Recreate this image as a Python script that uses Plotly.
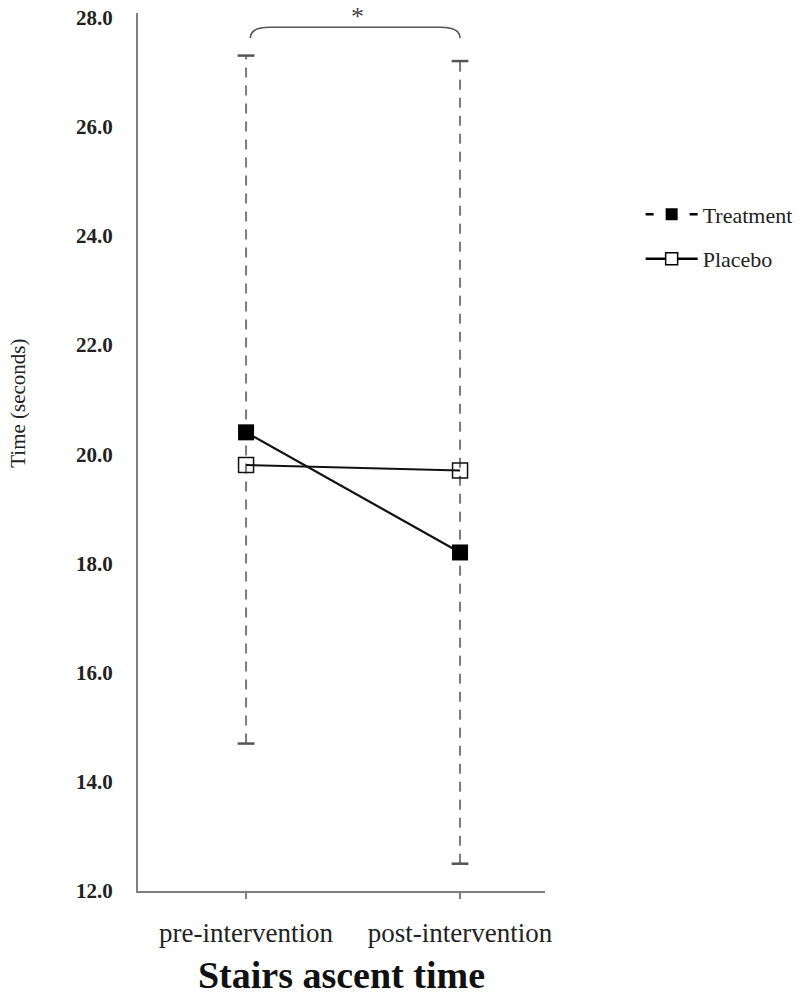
import plotly.graph_objects as go

# ---- data ----
categories = ["pre-intervention", "post-intervention"]
treatment = [20.4, 18.2]
placebo = [19.8, 19.7]
err_upper = [27.3, 27.2]
err_lower = [14.7, 12.5]
y_ticks = [12, 14, 16, 18, 20, 22, 24, 26, 28]
bracket_top = 27.82
bracket_end = 27.62

xpos = list(range(len(categories)))
SERIF = "Liberation Serif, Times New Roman, serif"

fig = go.Figure()

# dashed error bars
ex, ey = [], []
for i, lo, hi in zip(xpos, err_lower, err_upper):
    ex += [i, i, None]
    ey += [lo, hi, None]
fig.add_trace(go.Scatter(x=ex, y=ey, mode="lines", showlegend=False, hoverinfo="skip",
                         line=dict(color="#7a7a7a", width=2, dash="10px,8px")))
# caps
fig.add_trace(go.Scatter(x=xpos + xpos, y=err_lower + err_upper, mode="markers",
                         showlegend=False, hoverinfo="skip",
                         marker=dict(symbol="line-ew", size=12,
                                     line=dict(color="#555555", width=2.5))))

# placebo (solid, open square)
fig.add_trace(go.Scatter(x=xpos, y=placebo, mode="lines+markers", showlegend=False,
                         line=dict(color="#111111", width=2),
                         marker=dict(symbol="square-open", size=15, color="#111111",
                                     line=dict(width=1.5))))
# treatment (filled square)
fig.add_trace(go.Scatter(x=xpos, y=treatment, mode="lines+markers", showlegend=False,
                         line=dict(color="#111111", width=2.2),
                         marker=dict(symbol="square", size=16, color="#000000")))

# legend entries
fig.add_trace(go.Scatter(x=[None], y=[None], mode="lines+markers", name="Treatment",
                         legendgroup="t",
                         line=dict(color="#000000", width=2.5, dash="8px,36px"),
                         marker=dict(symbol="square", size=12, color="#000000")))
fig.add_trace(go.Scatter(x=[None], y=[None], mode="lines+markers", name="Placebo",
                         legendgroup="p",
                         line=dict(color="#000000", width=2.5),
                         marker=dict(symbol="square", size=12, color="white",
                                     line=dict(color="#000000", width=1.5))))

# significance bracket
x0, x1 = xpos[0] + 0.02, xpos[1]
r = 0.09
path = (f"M {x0},{bracket_end} Q {x0},{bracket_top} {x0 + r},{bracket_top} "
        f"L {x1 - r},{bracket_top} Q {x1},{bracket_top} {x1},{bracket_end}")
fig.add_shape(type="path", path=path, xref="x", yref="y",
              line=dict(color="#555555", width=1.6))
fig.add_annotation(x=(xpos[0] + xpos[1]) / 2 + 0.02, y=1.0, xref="x", yref="paper",
                   yanchor="top", yshift=13, text="*", showarrow=False,
                   font=dict(family=SERIF, size=26, color="#444444"))

# y axis title
fig.add_annotation(x=-0.295, y=0.556, xref="paper", yref="paper", text="Time (seconds)",
                   textangle=-90, showarrow=False, xanchor="center", yanchor="middle",
                   font=dict(family=SERIF, size=21, color="#222222"))

fig.update_layout(
    width=800, height=996,
    margin=dict(l=138, r=255, t=13, b=105, autoexpand=False),
    plot_bgcolor="white", paper_bgcolor="white",
    font=dict(family=SERIF, color="#222222"),
    legend=dict(x=1.235, y=0.745, xanchor="left", yanchor="middle", itemwidth=52,
                font=dict(family=SERIF, size=22, color="#222222"),
                tracegroupgap=13, bgcolor="rgba(0,0,0,0)"),
    xaxis=dict(range=[-0.505, 1.397], tickvals=xpos, ticktext=categories,
               showline=True, linecolor="#808080", linewidth=2, automargin=False,
               ticks="outside", ticklen=6, tickcolor="#808080", tickwidth=1.5,
               showgrid=False, zeroline=False, ticklabelstandoff=11,
               tickfont=dict(family=SERIF, size=27, color="#222222"),
               title=dict(text="<b>Stairs ascent time</b>", standoff=26,
                          font=dict(family=SERIF, size=38, color="#111111"))),
    yaxis=dict(range=[12, 28.08], tickvals=y_ticks, tickformat=".1f",
               showline=True, linecolor="#808080", linewidth=2, automargin=False,
               ticks="", showgrid=False, zeroline=False, ticklabelstandoff=19,
               tickfont=dict(family=SERIF, size=21, color="#222222", weight="bold")),
)

fig.write_html("out.html", config={"displayModeBar": False},
               post_script="document.body.style.margin='0';document.body.style.padding='0';")
